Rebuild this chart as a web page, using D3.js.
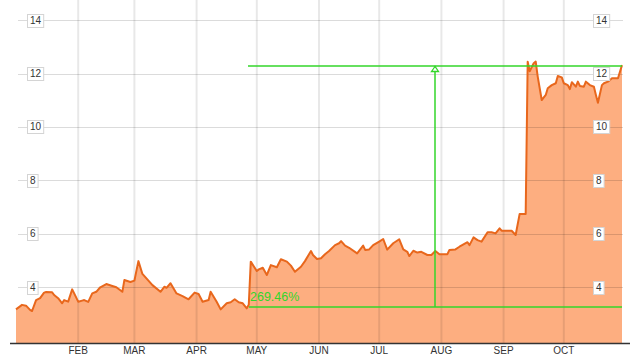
<!DOCTYPE html>
<html><head><meta charset="utf-8">
<script src="https://cdn.jsdelivr.net/npm/d3@7"></script>
<style>html,body{margin:0;padding:0;background:#fff;}svg{display:block;}</style>
</head><body><svg id="c" width="630" height="358"></svg>
<script>
const dates = ["2010-01-01","2010-01-04","2010-01-06","2010-01-08","2010-01-09","2010-01-11","2010-01-13","2010-01-15","2010-01-16","2010-01-19","2010-01-20","2010-01-22","2010-01-24","2010-01-25","2010-01-27","2010-01-29","2010-01-30",
"2010-02-01","2010-02-03","2010-02-04","2010-02-06","2010-02-08","2010-02-10","2010-02-12","2010-02-15","2010-02-18","2010-02-20","2010-02-23","2010-02-24","2010-02-27",
"2010-03-01","2010-03-03","2010-03-05","2010-03-06","2010-03-08","2010-03-10","2010-03-14","2010-03-16","2010-03-17","2010-03-19","2010-03-22","2010-03-25","2010-03-28","2010-03-31",
"2010-04-02","2010-04-04","2010-04-07","2010-04-08","2010-04-11","2010-04-13","2010-04-16","2010-04-18","2010-04-20","2010-04-22","2010-04-24","2010-04-26","2010-04-27","2010-04-28",
"2010-05-01","2010-05-02","2010-05-04","2010-05-06","2010-05-08","2010-05-11","2010-05-13","2010-05-16","2010-05-18","2010-05-20","2010-05-23","2010-05-25","2010-05-28","2010-05-29","2010-05-31",
"2010-06-02","2010-06-04","2010-06-06","2010-06-09","2010-06-11","2010-06-12","2010-06-14","2010-06-16","2010-06-20","2010-06-23","2010-06-24","2010-06-26","2010-06-28",
"2010-07-01","2010-07-03","2010-07-05","2010-07-08","2010-07-11","2010-07-13","2010-07-15","2010-07-16","2010-07-18","2010-07-20","2010-07-22","2010-07-25","2010-07-27","2010-07-29","2010-07-31",
"2010-08-02","2010-08-04","2010-08-05","2010-08-08","2010-08-10","2010-08-14","2010-08-15","2010-08-17","2010-08-19","2010-08-21","2010-08-24","2010-08-26","2010-08-28","2010-08-30","2010-08-31",
"2010-09-03","2010-09-05","2010-09-07","2010-09-09","2010-09-12","2010-09-13","2010-09-14","2010-09-16","2010-09-17","2010-09-18","2010-09-20","2010-09-22","2010-09-23","2010-09-25","2010-09-27","2010-09-28","2010-09-30",
"2010-10-01","2010-10-03","2010-10-04","2010-10-05","2010-10-07","2010-10-08","2010-10-09","2010-10-11","2010-10-12","2010-10-14","2010-10-16","2010-10-17","2010-10-18","2010-10-20","2010-10-21","2010-10-23","2010-10-25","2010-10-27","2010-10-28","2010-10-30"];
const values = [3.16,3.33,3.30,3.14,3.10,3.51,3.58,3.79,3.81,3.80,3.70,3.58,3.39,3.51,3.45,3.91,3.76,
3.45,3.49,3.51,3.44,3.76,3.82,3.99,4.11,4.04,3.99,3.82,4.26,4.19,
4.24,4.97,4.49,4.41,4.24,4.07,3.82,4.01,3.97,4.14,3.76,3.66,3.54,3.79,
3.74,3.45,3.51,3.82,3.45,3.16,3.39,3.43,3.54,3.43,3.39,3.20,3.33,4.95,
4.60,4.66,4.72,4.45,4.82,4.74,5.04,4.95,4.80,4.57,4.76,4.97,5.35,5.20,5.05,
5.08,5.23,5.35,5.57,5.64,5.72,5.55,5.47,5.26,5.55,5.39,5.41,5.57,
5.70,5.80,5.40,5.64,5.79,5.41,5.32,5.16,5.36,5.29,5.32,5.20,5.20,5.35,5.23,
5.23,5.23,5.39,5.41,5.51,5.68,5.57,5.86,5.76,5.70,6.05,6.05,6.01,6.20,6.11,
6.11,6.11,5.95,6.74,6.74,12.45,12.09,12.39,12.45,11.89,11.01,11.20,11.45,11.57,11.64,11.91,11.86,
11.64,11.57,11.42,11.68,11.51,11.70,11.54,11.51,11.70,11.57,11.51,11.20,10.91,11.57,11.64,11.70,11.83,11.83,11.83,12.32];
const monthTicks = ["2010-02-01","2010-03-01","2010-04-01","2010-05-01","2010-06-01","2010-07-01","2010-08-01","2010-09-01","2010-10-01"];
const monthLabels = ["FEB","MAR","APR","MAY","JUN","JUL","AUG","SEP","OCT"];
const yTicks = [4,6,8,10,12,14];
const changeLow = 3.25, changeHigh = 12.28;
const changeStart = "2010-04-27", changeMid = "2010-07-29";
const changeLabel = "269.46%";

const parse = d3.utcParse("%Y-%m-%d");
const data = dates.map((d,i)=>({date:parse(d), value:values[i]}));
const svg = d3.select("#c");
const font = "'Liberation Sans', Arial, sans-serif";
const x = d3.scaleUtc().domain([parse("2010-01-01"), parse("2010-10-30")]).range([16, 622]);
const y = d3.scaleLinear().domain([4,14]).range([287, 20.3]);
const base = 343;

// area
svg.append("path").datum(data)
  .attr("d", d3.area().x(d=>x(d.date)).y0(base).y1(d=>y(d.value)))
  .attr("fill", "#fdae80");

// grid
const g = svg.append("g");
g.selectAll("line.v").data(monthTicks).join("line")
  .attr("x1", d=>x(parse(d))).attr("x2", d=>x(parse(d)))
  .attr("y1", 0).attr("y2", base)
  .attr("stroke", "rgba(0,0,0,0.09)").attr("stroke-width", 2);
g.selectAll("line.h").data(yTicks).join("line")
  .attr("x1", 18).attr("x2", 623)
  .attr("y1", d=>Math.round(y(d))+0.5).attr("y2", d=>Math.round(y(d))+0.5)
  .attr("stroke", "rgba(0,0,0,0.14)").attr("stroke-width", 1);

// line
svg.append("path").datum(data)
  .attr("d", d3.line().x(d=>x(d.date)).y(d=>y(d.value)))
  .attr("fill", "none").attr("stroke", "#e8671c").attr("stroke-width", 2).attr("stroke-linejoin","round");

// change measurement
const green = "#33d62a";
const xs = Math.round(x(parse(changeStart))), xm = Math.round(x(parse(changeMid)));
const yl = Math.round(y(changeLow)), yh = Math.round(y(changeHigh));
const gm = svg.append("g").attr("stroke", green).attr("fill", "none").attr("stroke-width", 1.5);
gm.append("line").attr("x1", xs).attr("x2", 622).attr("y1", yl).attr("y2", yl);
gm.append("line").attr("x1", xs - 1).attr("x2", 622).attr("y1", yh).attr("y2", yh);
gm.append("line").attr("x1", xm).attr("x2", xm).attr("y1", yl).attr("y2", yh);
gm.append("path").attr("d", `M${xm},${yh+0.5} L${xm-3.5},${yh+5.5} L${xm+3.5},${yh+5.5} Z`)
  .attr("fill", "#fff").attr("stroke-width", 1.3);
svg.append("text").attr("x", xs + 1).attr("y", yl - 6)
  .attr("font-family", font).attr("font-size", 12.5).attr("fill", green).text(changeLabel);

// axis
svg.append("line").attr("x1", 10).attr("x2", 630).attr("y1", base+0.5).attr("y2", base+0.5)
  .attr("stroke", "#333").attr("stroke-width", 1.5);
svg.selectAll("text.m").data(monthTicks).join("text")
  .attr("x", d=>x(parse(d))).attr("y", 354).attr("text-anchor", "middle")
  .attr("font-family", font).attr("font-size", 10).attr("fill", "#333")
  .text((d,i)=>monthLabels[i]);

// y labels (both sides)
function yLabels(x0){
  const gg = svg.append("g");
  yTicks.forEach(v=>{
    const t = String(v);
    const w = t.length*5.6 + 5;
    const cy = y(v);
    gg.append("rect").attr("x", x0+0.5).attr("y", Math.round(cy-6.5)+0.5).attr("width", w).attr("height", 13)
      .attr("fill", "#fff").attr("stroke", "#d4d4d4").attr("stroke-width", 1);
    gg.append("text").attr("x", x0 + 0.5 + w/2).attr("y", cy + 3.5).attr("text-anchor","middle")
      .attr("font-family", font).attr("font-size", 10).attr("fill", "#333").text(t);
  });
}
yLabels(27);
yLabels(593);
</script></body></html>
